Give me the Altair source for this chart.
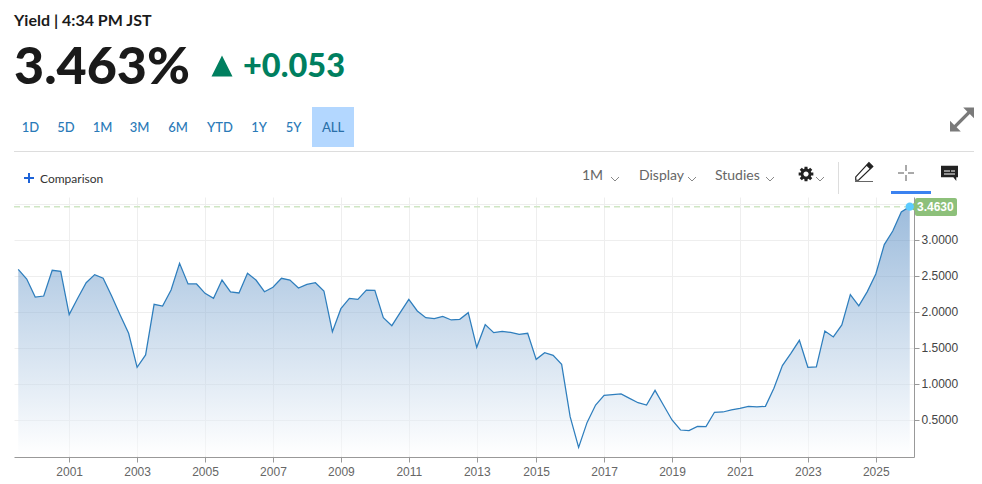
import math
import altair as alt
import pandas as pd

# Quarterly yield values
values = [
    2.593, 2.458, 2.208, 2.222, 2.579, 2.565, 1.963, 2.190, 2.407, 2.519,
    2.468, 2.222, 1.958, 1.704, 1.231, 1.403, 2.106, 2.083, 2.306, 2.676,
    2.389, 2.389, 2.259, 2.190, 2.444, 2.278, 2.264, 2.537, 2.444, 2.282,
    2.343, 2.468, 2.444, 2.333, 2.384, 2.407, 2.292, 1.727, 2.046, 2.190,
    2.176, 2.305, 2.300, 1.921, 1.810, 1.995, 2.176, 2.014, 1.921, 1.907,
    1.940, 1.889, 1.898, 1.990, 1.509, 1.824, 1.713, 1.731, 1.717, 1.690,
    1.704, 1.342, 1.435, 1.398, 1.273, 0.546, 0.120, 0.467, 0.708, 0.842,
    0.851, 0.861, 0.800, 0.740, 0.708, 0.912, 0.705, 0.500, 0.361, 0.352,
    0.412, 0.407, 0.607, 0.611, 0.640, 0.662, 0.690, 0.681, 0.690, 0.940,
    1.255, 1.426, 1.607, 1.232, 1.236, 1.737, 1.653, 1.820, 2.241, 2.084,
    2.283, 2.528, 2.936, 3.125, 3.389, 3.463,
]
years = ["1999"] * 2 + ["2000"] * 4 + ["2001"] * 4 + ["2002"] * 4 + ["2003"] * 4
years += ["2004"] * 4 + ["2005"] * 4 + ["2006"] * 4 + ["2007"] * 4 + ["2008"] * 4
years += ["2009"] * 4 + ["2010"] * 4 + ["2011"] * 4 + ["2012"] * 4 + ["2013"] * 4
years += ["2014"] * 3 + ["2015"] * 4 + ["2016"] * 4 + ["2017"] * 4 + ["2018"] * 4
years += ["2019"] * 4 + ["2020"] * 4 + ["2021"] * 4 + ["2022"] * 4 + ["2023"] * 4
years += ["2024"] * 4 + ["2025"] * 4 + ["2026"]

# one label per sample; the source axis has a gap of one quarter before 2015
periods = []
seen = {}
for y in years:
    seen[y] = seen.get(y, 0) + 1
    periods.append(f"{y}-{seen[y]}")
tick_years = ["2001", "2003", "2005", "2007", "2009", "2011", "2013", "2015",
              "2017", "2019", "2021", "2023", "2025"]
tick_periods = [y + "-1" for y in tick_years]
y_ticks = [0.5, 1.0, 1.5, 2.0, 2.5, 3.0, 3.5]
last_value = 3.463
last_label = "3.4630"

df = pd.DataFrame({"period": periods, "yield": values})
last = df.tail(1)

PW, PH = 900, 260
OX, OY = 14, 197  # page position of the plot's top-left corner
one = pd.DataFrame({"a": [0]})

xscale = alt.Scale(type="point", padding=0.5, domain=periods)
yscale = alt.Scale(domain=[-0.014, 3.597], nice=False, zero=False)

x_enc = alt.X("period:N", scale=xscale, title=None, sort=None, axis=alt.Axis(
    values=tick_periods, labelExpr="slice(datum.value, 0, 4)", labelAngle=0,
    labelFont="Liberation Sans", labelFontSize=12, labelColor="#666666",
    labelPadding=4, tickSize=5, tickColor="#999999", domainColor="#999999",
    grid=True, gridColor="#eeeeee", labelOverlap=False))
y_enc = alt.Y("yield:Q", scale=yscale, title=None, axis=alt.Axis(
    orient="right", values=y_ticks, format=".4f",
    labelExpr="datum.value > 3.2 ? '' : datum.label",
    labelFont="Liberation Sans", labelFontSize=12, labelColor="#444444",
    labelPadding=2, tickSize=5, tickColor="#999999", domainColor="#999999",
    grid=True, gridColor="#eeeeee"))

grad = alt.Gradient(gradient="linear", x1=1, x2=1, y1=1, y2=0, stops=[
    alt.GradientStop(color="#ffffff", offset=0),
    alt.GradientStop(color="#3b79b9", offset=1)])

area = alt.Chart(df).mark_area(fill=grad, opacity=0.5, line=False).encode(x=x_enc, y=y_enc)
line = alt.Chart(df).mark_line(color="#2e7ebd", strokeWidth=1.25).encode(x=x_enc, y=y_enc)
dash = alt.Chart(one).mark_rule(color="#cfe6c4", strokeWidth=1.5, strokeDash=[6, 4]).encode(
    x=alt.value(0), x2=alt.value(PW - 4), y=alt.datum(last_value, scale=yscale))


def text(s, x, y, size=12, color="#333333", weight=400, font="Lato", align="left"):
    return alt.Chart(one).mark_text(
        font=font, fontSize=size, fontWeight=weight, color=color, align=align, baseline="alphabetic"
    ).encode(x=alt.value(x - OX), y=alt.value(y - OY), text=alt.value(s))


def rect(x1, x2, y1, y2, color, radius=0):
    return alt.Chart(one).mark_rect(color=color, cornerRadius=radius, opacity=1).encode(
        x=alt.value(x1 - OX), x2=alt.value(x2 - OX), y=alt.value(y1 - OY), y2=alt.value(y2 - OY))


def seg(x1, x2, y1, y2, color, width=1):
    return alt.Chart(one).mark_rule(color=color, strokeWidth=width).encode(
        x=alt.value(x1 - OX), x2=alt.value(x2 - OX), y=alt.value(y1 - OY), y2=alt.value(y2 - OY))


def icon(path, x, y, radius, fill="transparent", stroke="transparent", width=1):
    return alt.Chart(one).mark_point(
        shape=path, size=(2 * radius) ** 2, filled=False, fill=fill, stroke=stroke,
        strokeWidth=width, opacity=1, fillOpacity=1
    ).encode(x=alt.value(x - OX), y=alt.value(y - OY))


def gear_path(teeth=8):
    pts = []
    for k in range(teeth):
        a = 2 * math.pi * k / teeth
        for da, r in [(-0.30, 0.72), (-0.20, 1.0), (0.20, 1.0), (0.30, 0.72)]:
            pts.append((r * math.cos(a + da), r * math.sin(a + da)))
    return "M" + "L".join(f"{px:.3f},{py:.3f}" for px, py in pts) + "Z"


CHEV = "M-1,-0.5L0,0.5L1,-0.5"
layers = [rect(312, 354, 107, 147, "#b3d7ff"), area, line, dash]

# badge and last-value marker
badge = rect(915, 957, 198, 216, "#8dc07a", 2)
tip = alt.Chart(last).mark_point(shape="M1,-1L-1,0L1,1Z", size=196, filled=True, color="#8dc07a", opacity=1, xOffset=4).encode(
    x=x_enc, y=y_enc)
dot = alt.Chart(last).mark_point(shape="circle", size=70, filled=True, color="#5ccbff", opacity=1).encode(x=x_enc, y=y_enc)
layers += [badge, tip, dot,
           text(last_label, 917, 211, 12, "#ffffff", 700, "Liberation Sans")]

# header
layers += [
    text("Yield | 4:34 PM JST", 14, 26, 16, "#1a1a1a", 700),
    text("3.463%", 14, 84, 52, "#1a1a1a", 900),
    icon("M-1,1L0,-1L1,1Z", 222, 66, 10.5, fill="#007f5f"),
    text("+0.053", 243, 77, 32.5, "#007f5f", 900),
    seg(14, 974, 151.5, 151.5, "#dddddd", 1),
]
for s, cx in [("1D", 30.5), ("5D", 66), ("1M", 102.5), ("3M", 139.5), ("6M", 178),
              ("YTD", 220), ("1Y", 259), ("5Y", 293.5)]:
    layers.append(text(s, cx, 132, 13, "#2a7ab8", 500, align="center"))
layers.append(text("ALL", 333, 132, 13, "#2a6fa8", 500, align="center"))

# toolbar
layers += [
    icon("M-1,0L1,0M0,-1L0,1", 29, 178, 5, stroke="#1d63d8", width=2),
    text("Comparison", 40, 183, 12, "#333333"),
    text("1M", 582, 180, 14, "#666666"),
    text("Display", 639, 180, 14, "#666666"),
    text("Studies", 715, 180, 14, "#666666"),
    seg(838.5, 838.5, 162, 194, "#dddddd", 1),
    rect(891, 931, 191, 194, "#3b82f0"),
    # gear
    icon(gear_path(), 806, 174, 7.5, fill="#222222"),
    icon("M-1,0A1,1 0 1 1 1,0A1,1 0 1 1 -1,0Z", 806, 174, 2.6, fill="#ffffff"),
    # pencil
    icon("M-0.5,0.75L-0.75,0.75L-0.75,0.45L0.45,-0.85L0.8,-0.5Z", 864, 172, 11, fill="#ffffff", stroke="#222222", width=1.2),
    icon("M0.2,-0.6L0.45,-0.85L0.8,-0.5L0.55,-0.25Z", 864, 172, 11, fill="#222222"),
    seg(855, 873, 181.5, 181.5, "#666666", 1),
    # crosshair
    seg(898, 904, 173, 173, "#555555", 1), seg(908, 914, 173, 173, "#555555", 1),
    seg(906, 906, 165, 171, "#555555", 1), seg(906, 906, 175, 181, "#555555", 1),
    # comment
    icon("M-1,-0.85L1,-0.85L1,0.5L0.8,0.5L0.8,0.95L0.45,0.5L-1,0.5Z", 949.5, 173, 8.5, fill="#222222"),
    seg(944, 950, 171, 171, "#ffffff", 1), seg(944, 955, 174, 174, "#ffffff", 1), seg(951, 955, 171, 171, "#ffffff", 1),
    # expand arrows
    icon("M1,-1L1,-0.1L0.65,-0.45L-0.45,0.65L-0.1,1L-1,1L-1,0.1L-0.65,0.45L0.45,-0.65L0.1,-1Z", 962, 119.5, 12, fill="#7a7a7a"),
]
for cx in [615, 692, 770, 820]:
    layers.append(icon(CHEV, cx, 179, 4, stroke="#888888", width=1))

chart = alt.layer(*layers).properties(
    width=PW, height=PH,
    padding={"left": OX - 8, "top": OY - 8, "right": 60, "bottom": 24},
    autosize=alt.AutoSizeParams(type="none"),
    background="#ffffff",
).configure_view(stroke=None).resolve_scale(x="shared", y="shared")

chart.save("out.html", embed_options={"renderer": "svg", "actions": False})
